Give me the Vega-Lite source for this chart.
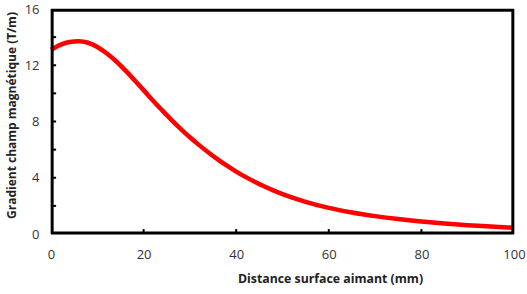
{
  "$schema": "https://vega.github.io/schema/vega-lite/v6.json",
  "width": 463,
  "height": 225,
  "padding": {"left": 5, "top": 3, "right": 5, "bottom": 5},
  "config": {
    "view": {"stroke": null},
    "axis": {"labelOverlap": false, "grid": false, "domain": false, "ticks": false, "labelFlush": false}
  },
  "datasets": {
    "curve": [
      {"d": 0, "g": 13.1}, {"d": 2, "g": 13.45}, {"d": 4, "g": 13.65}, {"d": 6, "g": 13.7},
      {"d": 8, "g": 13.6}, {"d": 10, "g": 13.3}, {"d": 12, "g": 12.85}, {"d": 14, "g": 12.3},
      {"d": 16, "g": 11.65}, {"d": 18, "g": 10.95}, {"d": 20, "g": 10.23}, {"d": 22, "g": 9.5},
      {"d": 24, "g": 8.8}, {"d": 26, "g": 8.12}, {"d": 28, "g": 7.48}, {"d": 30, "g": 6.88},
      {"d": 32, "g": 6.32}, {"d": 34, "g": 5.8}, {"d": 36, "g": 5.31}, {"d": 38, "g": 4.86},
      {"d": 40, "g": 4.44}, {"d": 42, "g": 4.06}, {"d": 44, "g": 3.71}, {"d": 46, "g": 3.39},
      {"d": 48, "g": 3.1}, {"d": 50, "g": 2.84}, {"d": 55, "g": 2.29}, {"d": 60, "g": 1.86},
      {"d": 65, "g": 1.53}, {"d": 70, "g": 1.27}, {"d": 75, "g": 1.06}, {"d": 80, "g": 0.89},
      {"d": 85, "g": 0.75}, {"d": 90, "g": 0.63}, {"d": 95, "g": 0.53}, {"d": 100, "g": 0.44}
    ],
    "xticks": [{"t": 20}, {"t": 40}, {"t": 60}, {"t": 80}],
    "yticks": [{"t": 2}, {"t": 4}, {"t": 6}, {"t": 8}, {"t": 10}, {"t": 12}, {"t": 14}],
    "one": [{}]
  },
  "layer": [
    {
      "data": {"name": "curve"},
      "mark": {"type": "line", "color": "#ff0000", "strokeWidth": 4.5, "interpolate": "monotone"},
      "encoding": {
        "x": {
          "field": "d", "type": "quantitative",
          "scale": {"domain": [0, 100], "nice": false},
          "axis": {
            "values": [0, 20, 40, 60, 80, 100],
            "title": "Distance surface aimant (mm)",
            "labelFont": "Open Sans",
            "labelFontSize": 13, "labelColor": "#333333", "labelPadding": 14,
            "titleFont": "Open Sans",
            "titleFontSize": 12.3, "titleFontWeight": "bold", "titleColor": "#222222",
            "titlePadding": 11, "titleX": 279
          }
        },
        "y": {
          "field": "g", "type": "quantitative",
          "scale": {"domain": [0, 16], "nice": false},
          "axis": {
            "values": [0, 2, 4, 6, 8, 10, 12, 14, 16],
            "title": "Gradient champ magnétique (T/m)",
            "labelFont": "Open Sans",
            "labelFontSize": 13, "labelColor": "#333333", "labelPadding": 12,
            "titleFont": "Open Sans",
            "titleFontSize": 12, "titleFontWeight": "bold", "titleColor": "#222222",
            "titlePadding": 6, "titleY": 106
          }
        }
      }
    },
    {"data": {"name": "one"}, "mark": {"type": "rule", "color": "black", "strokeWidth": 3}, "encoding": {"y": {"datum": 15.92}}},
    {"data": {"name": "one"}, "mark": {"type": "rule", "color": "black", "strokeWidth": 3}, "encoding": {"y": {"datum": 0.08}}},
    {"data": {"name": "one"}, "mark": {"type": "rule", "color": "black", "strokeWidth": 3}, "encoding": {"x": {"datum": 0.25}}},
    {"data": {"name": "one"}, "mark": {"type": "rule", "color": "black", "strokeWidth": 3}, "encoding": {"x": {"datum": 99.75}}},
    {
      "data": {"name": "xticks"},
      "mark": {"type": "rule", "color": "black", "strokeWidth": 2},
      "encoding": {"x": {"field": "t", "type": "quantitative"}, "y": {"datum": 0}, "y2": {"datum": 0.35}}
    },
    {
      "data": {"name": "yticks"},
      "mark": {"type": "rule", "color": "black", "strokeWidth": 2},
      "encoding": {"y": {"field": "t", "type": "quantitative"}, "x": {"datum": 0}, "x2": {"datum": 1.1}}
    }
  ]
}
